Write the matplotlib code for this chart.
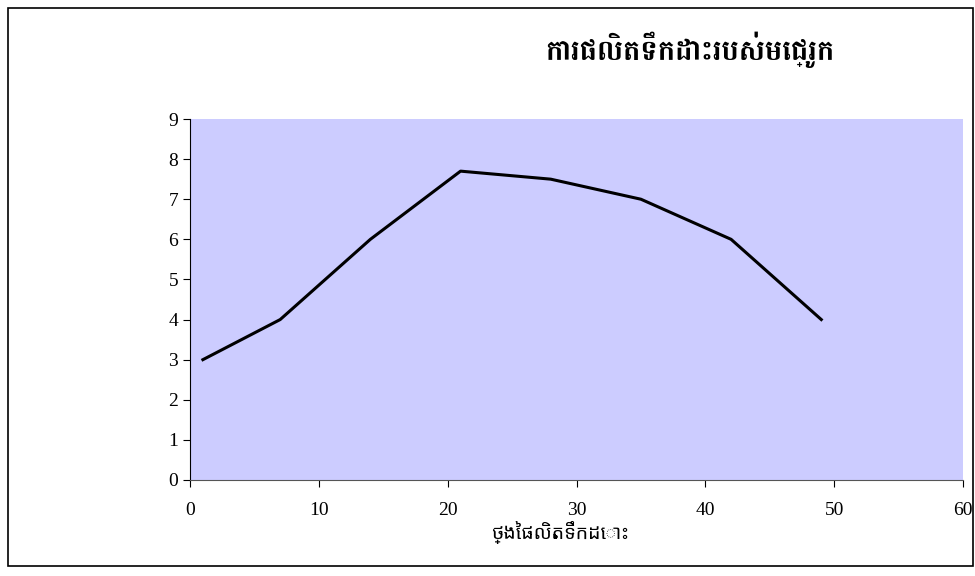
import matplotlib.pyplot as plt
from matplotlib.patches import Rectangle

# Data
days = [1, 7, 14, 21, 28, 35, 42, 49]
production = [3, 4, 6, 7.7, 7.5, 7, 6, 4]
x_ticks = [0, 10, 20, 30, 40, 50, 60]
y_ticks = [0, 1, 2, 3, 4, 5, 6, 7, 8, 9]

title = 'ការផលិតទឹកដោះរបស់មេជ្រូក'
xlabel = 'ថ្ងៃផលិតទឹកដោះ'

plt.rcParams['font.family'] = ['Liberation Serif', 'Noto Sans Khmer', 'DejaVu Sans']
khmer = ['Noto Sans Khmer', 'Khmer', 'DejaVu Sans']
khmer_bold = ['Battambang', 'Noto Sans Khmer', 'DejaVu Sans']

fig = plt.figure(figsize=(9.75, 5.76), dpi=100)
ax = fig.add_axes([190 / 975, 1 - 480 / 576, (963 - 190) / 975, (480 - 119) / 576])

ax.set_facecolor('#ccccff')
ax.plot(days, production, color='black', linewidth=2.2)

ax.set_xlim(0, 60)
ax.set_ylim(0, 9)
ax.set_xticks(x_ticks)
ax.set_yticks(y_ticks)

for side in ['top', 'right']:
    ax.spines[side].set_visible(False)
ax.spines['left'].set_color('black')
ax.spines['bottom'].set_color('#555555')
ax.tick_params(direction='out', length=5, labelsize=14, colors='black')
ax.tick_params(axis='x', pad=11)

fig.text(560 / 975, 1 - 532 / 576, xlabel, ha='center', va='center',
         fontsize=14, family=khmer)
fig.text(690 / 975, 1 - 50 / 576, title, ha='center', va='center',
         fontsize=21, fontweight='bold', family=khmer_bold)

# outer frame around the chart
fig.patches.append(Rectangle((8 / 975, 10 / 576), 965 / 975, 558 / 576,
                             transform=fig.transFigure, fill=False,
                             edgecolor='black', linewidth=1.2))

fig.savefig('out.png', dpi=100)
